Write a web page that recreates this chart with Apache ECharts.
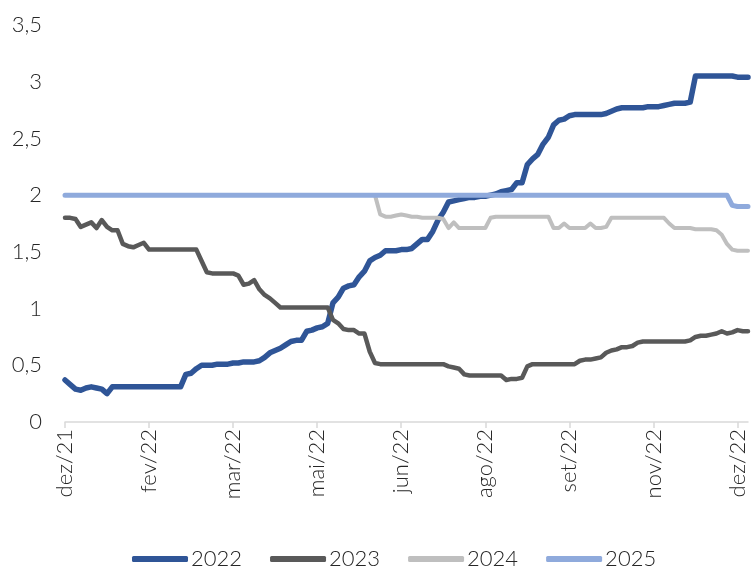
<!DOCTYPE html>
<html>
<head>
<meta charset="utf-8">
<script src="https://cdn.jsdelivr.net/npm/echarts@6/dist/echarts.min.js"></script>
<style>
  html, body { margin: 0; padding: 0; background: #fff; }
  #chart { width: 752px; height: 569px; }
</style>
</head>
<body>
<div id="chart"></div>
<script>
// tick labels, one every 16 observations
const tickLabels = ['dez/21', 'fev/22', 'mar/22', 'mai/22', 'jun/22', 'ago/22', 'set/22', 'nov/22', 'dez/22']
const pointsPerTick = 16

const s2022 = [
  0.37, 0.33, 0.29, 0.28, 0.30, 0.31, 0.30, 0.29, 0.25, 0.31,
  0.31, 0.31, 0.31, 0.31, 0.31, 0.31, 0.31, 0.31, 0.31, 0.31,
  0.31, 0.31, 0.31, 0.42, 0.43, 0.47, 0.50, 0.50, 0.50, 0.51,
  0.51, 0.51, 0.52, 0.52, 0.53, 0.53, 0.53, 0.54, 0.57, 0.61,
  0.63, 0.65, 0.68, 0.71, 0.72, 0.72, 0.80, 0.81, 0.83, 0.84,
  0.87, 1.05, 1.10, 1.18, 1.20, 1.21, 1.28, 1.33, 1.42, 1.45,
  1.47, 1.51, 1.51, 1.51, 1.52, 1.52, 1.53, 1.57, 1.61, 1.61,
  1.68, 1.78, 1.85, 1.94, 1.95, 1.96, 1.97, 1.98, 1.98, 1.99,
  1.99, 2.00, 2.01, 2.03, 2.04, 2.05, 2.11, 2.11, 2.27, 2.32,
  2.36, 2.45, 2.51, 2.62, 2.66, 2.67, 2.70, 2.71, 2.71, 2.71,
  2.71, 2.71, 2.71, 2.72, 2.74, 2.76, 2.77, 2.77, 2.77, 2.77,
  2.77, 2.78, 2.78, 2.78, 2.79, 2.80, 2.81, 2.81, 2.81, 2.82,
  3.05, 3.05, 3.05, 3.05, 3.05, 3.05, 3.05, 3.05, 3.04, 3.04,
  3.04
]

const s2023 = [
  1.80, 1.80, 1.79, 1.72, 1.74, 1.76, 1.71, 1.78, 1.72, 1.69,
  1.69, 1.57, 1.55, 1.54, 1.56, 1.58, 1.52, 1.52, 1.52, 1.52,
  1.52, 1.52, 1.52, 1.52, 1.52, 1.52, 1.42, 1.32, 1.31, 1.31,
  1.31, 1.31, 1.31, 1.29, 1.21, 1.22, 1.25, 1.17, 1.12, 1.09,
  1.05, 1.01, 1.01, 1.01, 1.01, 1.01, 1.01, 1.01, 1.01, 1.01,
  1.01, 0.90, 0.87, 0.82, 0.81, 0.81, 0.78, 0.78, 0.62, 0.52,
  0.51, 0.51, 0.51, 0.51, 0.51, 0.51, 0.51, 0.51, 0.51, 0.51,
  0.51, 0.51, 0.51, 0.49, 0.48, 0.47, 0.42, 0.41, 0.41, 0.41,
  0.41, 0.41, 0.41, 0.41, 0.37, 0.38, 0.38, 0.39, 0.49, 0.51,
  0.51, 0.51, 0.51, 0.51, 0.51, 0.51, 0.51, 0.51, 0.54, 0.55,
  0.55, 0.56, 0.57, 0.61, 0.63, 0.64, 0.66, 0.66, 0.67, 0.70,
  0.71, 0.71, 0.71, 0.71, 0.71, 0.71, 0.71, 0.71, 0.71, 0.72,
  0.75, 0.76, 0.76, 0.77, 0.78, 0.80, 0.78, 0.79, 0.81, 0.80,
  0.80
]

// 2024 starts in late May
const s2024 = [
  null, null, null, null, null, null, null, null, null, null,
  null, null, null, null, null, null, null, null, null, null,
  null, null, null, null, null, null, null, null, null, null,
  null, null, null, null, null, null, null, null, null, null,
  null, null, null, null, null, null, null, null, null, null,
  null, null, null, null, null, null, null, null, null, 2.00,
  1.83, 1.81, 1.81, 1.82, 1.83, 1.82, 1.81, 1.81, 1.80, 1.80,
  1.80, 1.80, 1.79, 1.71, 1.76, 1.71, 1.71, 1.71, 1.71, 1.71,
  1.71, 1.80, 1.81, 1.81, 1.81, 1.81, 1.81, 1.81, 1.81, 1.81,
  1.81, 1.81, 1.81, 1.71, 1.71, 1.75, 1.71, 1.71, 1.71, 1.71,
  1.75, 1.71, 1.71, 1.72, 1.80, 1.80, 1.80, 1.80, 1.80, 1.80,
  1.80, 1.80, 1.80, 1.80, 1.80, 1.75, 1.71, 1.71, 1.71, 1.71,
  1.70, 1.70, 1.70, 1.70, 1.69, 1.65, 1.57, 1.52, 1.51, 1.51,
  1.51
]

const s2025 = [
  2.00, 2.00, 2.00, 2.00, 2.00, 2.00, 2.00, 2.00, 2.00, 2.00,
  2.00, 2.00, 2.00, 2.00, 2.00, 2.00, 2.00, 2.00, 2.00, 2.00,
  2.00, 2.00, 2.00, 2.00, 2.00, 2.00, 2.00, 2.00, 2.00, 2.00,
  2.00, 2.00, 2.00, 2.00, 2.00, 2.00, 2.00, 2.00, 2.00, 2.00,
  2.00, 2.00, 2.00, 2.00, 2.00, 2.00, 2.00, 2.00, 2.00, 2.00,
  2.00, 2.00, 2.00, 2.00, 2.00, 2.00, 2.00, 2.00, 2.00, 2.00,
  2.00, 2.00, 2.00, 2.00, 2.00, 2.00, 2.00, 2.00, 2.00, 2.00,
  2.00, 2.00, 2.00, 2.00, 2.00, 2.00, 2.00, 2.00, 2.00, 2.00,
  2.00, 2.00, 2.00, 2.00, 2.00, 2.00, 2.00, 2.00, 2.00, 2.00,
  2.00, 2.00, 2.00, 2.00, 2.00, 2.00, 2.00, 2.00, 2.00, 2.00,
  2.00, 2.00, 2.00, 2.00, 2.00, 2.00, 2.00, 2.00, 2.00, 2.00,
  2.00, 2.00, 2.00, 2.00, 2.00, 2.00, 2.00, 2.00, 2.00, 2.00,
  2.00, 2.00, 2.00, 2.00, 2.00, 2.00, 2.00, 1.91, 1.90, 1.90,
  1.90
]

const categories = s2022.map((v, i) =>
  i % pointsPerTick === 0 ? tickLabels[i / pointsPerTick] : ''
)

const font = 'Lato, "Open Sans", sans-serif'
const showTick = (index) => index % pointsPerTick === 0

function lineSeries(name, data, color, width) {
  return {
    name: name,
    type: 'line',
    data: data,
    symbol: 'none',
    smooth: false,
    connectNulls: false,
    lineStyle: { color: color, width: width, cap: 'round', join: 'round' },
    itemStyle: { color: color }
  }
}

const chart = echarts.init(document.getElementById('chart'))
chart.setOption({
  animation: false,
  backgroundColor: '#fff',
  grid: { left: 65, right: 4, top: 25, bottom: 147 },
  legend: {
    top: 543,
    left: 127,
    icon: 'roundRect',
    itemWidth: 56,
    itemHeight: 6,
    itemGap: 28,
    textStyle: { fontFamily: font, fontSize: 22, fontWeight: 300, color: '#262626', padding: [0, 0, 0, -2] },
    data: ['2022', '2023', '2024', '2025']
  },
  xAxis: {
    type: 'category',
    data: categories,
    boundaryGap: false,
    axisLine: { lineStyle: { color: '#d9d9d9', width: 1.5 } },
    axisTick: { interval: showTick, length: 6, lineStyle: { color: '#d9d9d9', width: 1.5 } },
    axisLabel: {
      interval: showTick,
      rotate: 90,
      margin: 7,
      fontFamily: font,
      fontSize: 22,
      fontWeight: 300,
      color: '#262626'
    },
    splitLine: { show: false }
  },
  yAxis: {
    type: 'value',
    min: 0,
    max: 3.5,
    interval: 0.5,
    axisLine: { show: false },
    axisTick: { show: false },
    splitLine: { show: false },
    axisLabel: {
      margin: 23,
      fontFamily: font,
      fontSize: 22,
      fontWeight: 300,
      color: '#262626',
      formatter: (v) => String(v).replace('.', ',')
    }
  },
  series: [
    lineSeries('2022', s2022, '#2f5597', 5.5),
    lineSeries('2023', s2023, '#595959', 4.5),
    lineSeries('2024', s2024, '#bfbfbf', 4),
    lineSeries('2025', s2025, '#8faadc', 5)
  ]
})
</script>
</body>
</html>
